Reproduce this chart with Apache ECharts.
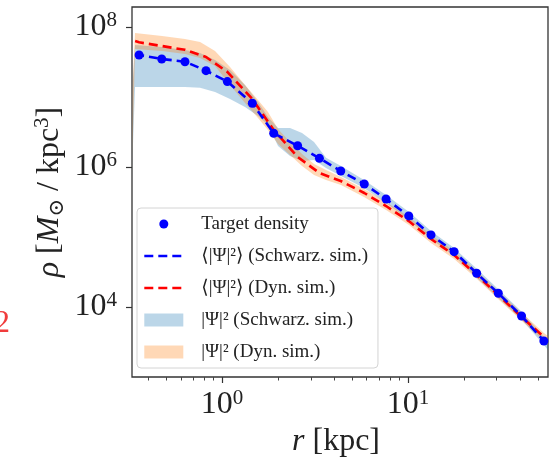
<!DOCTYPE html>
<html><head><meta charset="utf-8">
<script src="https://cdn.jsdelivr.net/npm/echarts@6/dist/echarts.min.js"></script>
<style>html,body{margin:0;padding:0;background:#fff}#c{width:552px;height:458px}</style>
</head><body><div id="c"></div>
<script>
// Target density points (r in kpc, rho in Msun/kpc^3)
const targetR   = [0.358, 0.474, 0.632, 0.820, 1.068, 1.455, 1.896, 2.55, 3.34, 4.35, 5.82, 7.62, 10.09, 13.3, 17.7, 23.4, 30.6, 40.8, 53.8];
const targetRho = [3.98e7, 3.49e7, 3.19e7, 2.38e7, 1.66e7, 8.13e6, 3.03e6, 2.01e6, 1.33e6, 8.77e5, 5.71e5, 3.49e5, 2.0e5, 1.07e5, 6.17e4, 3.03e4, 1.57e4, 7.44e3, 3.27e3];

// Mean |Psi|^2 curves
const meanR        = [0.341, 0.358, 0.474, 0.632, 0.820, 1.068, 1.455, 1.896, 2.55, 3.34, 4.35, 5.82, 7.62, 10.09, 13.3, 17.7, 23.4, 30.6, 40.8, 53.8];
const schwarzMean  = [4.05e7, 3.98e7, 3.49e7, 3.19e7, 2.38e7, 1.66e7, 8.13e6, 3.03e6, 2.01e6, 1.33e6, 8.77e5, 5.71e5, 3.49e5, 2.0e5, 1.07e5, 6.17e4, 3.03e4, 1.57e4, 7.44e3, 3.27e3];
const dynMean      = [6.3e7, 6.04e7, 5.35e7, 4.72e7, 3.73e7, 2.28e7, 9.36e6, 3.38e6, 1.39e6, 8.21e5, 6.31e5, 4.25e5, 2.77e5, 1.69e5, 9.36e4, 5.53e4, 2.86e4, 1.48e4, 7.2e3, 3.73e3];

// |Psi|^2 spread bands
const bandR       = [0.329, 0.3405, 0.476, 0.632, 0.762, 0.917, 1.104, 1.329, 1.561, 1.767, 2.0, 2.321, 2.692, 3.124, 3.624, 4.363, 5.8, 7.62, 10.13, 13.3, 17.7, 23.5, 30.5, 41.0, 53.8, 56.6];
const schwarzLow  = [1.07e6, 1.39e7, 1.39e7, 1.39e7, 1.35e7, 1.18e7, 9.36e6, 7.2e6, 5.36e6, 3.98e6, 2.0e6, 1.44e6, 1.22e6, 1.26e6, 9.68e5, 7.43e5, 5.01e5, 3.06e5, 1.75e5, 9.36e4, 5.36e4, 2.59e4, 1.35e4, 6.52e3, 2.86e3, 2.43e3];
const schwarzHigh = [1.14e7, 5.53e7, 5.18e7, 4.69e7, 4.25e7, 3.38e7, 2.43e7, 1.48e7, 8.48e6, 5.18e6, 3.61e6, 3.61e6, 3.06e6, 2.28e6, 1.35e6, 1.03e6, 6.52e5, 3.98e5, 2.28e5, 1.22e5, 6.97e4, 3.49e4, 1.81e4, 8.48e3, 3.73e3, 3.27e3];
const dynLow      = [1.07e6, 4.85e7, 4.54e7, 4.11e7, 3.61e7, 2.77e7, 1.48e7, 8.2e6, 5.01e6, 3.38e6, 2.13e6, 1.48e6, 1.03e6, 7.69e5, 6.52e5, 5.53e5, 3.73e5, 2.43e5, 1.48e5, 8.2e4, 4.85e4, 2.51e4, 1.30e4, 6.31e3, 3.27e3, 2.96e3];
const dynHigh     = [1.14e7, 8.2e7, 7.43e7, 6.74e7, 6.11e7, 4.54e7, 2.68e7, 1.48e7, 9.06e6, 6.11e6, 3.49e6, 2.28e6, 1.53e6, 1.10e6, 9.06e5, 7.2e5, 4.85e5, 3.16e5, 1.93e5, 1.07e5, 6.31e4, 3.27e4, 1.69e4, 8.2e3, 4.25e3, 3.85e3];

// Axis ticks
const xMajorTicks = [1, 10];
const xMinorTicks = [0.4, 0.5, 0.6, 0.7, 0.8, 0.9, 2, 3, 4, 5, 6, 7, 8, 9, 20, 30, 40, 50];
const yMajorTicks = [1e4, 1e6, 1e8];

const names = {
  target: 'Target density',
  schMean: '⟨|Ψ|²⟩ (Schwarz. sim.)',
  dynMean: '⟨|Ψ|²⟩ (Dyn. sim.)',
  schBand: '|Ψ|² (Schwarz. sim.)',
  dynBand: '|Ψ|² (Dyn. sim.)'
};

const SERIF = '"Liberation Serif", "DejaVu Serif", serif';
const INK = '#222';
const BLUE = '#0000ff', RED = '#ff0000';
const BLUE_BAND = 'rgba(31,119,180,0.3)', ORANGE_BAND = 'rgba(255,127,14,0.3)';

const zip = (xs, ys) => xs.map((x, i) => [x, ys[i]]);
const zip3 = (xs, lo, hi) => xs.map((x, i) => [x, lo[i], hi[i]]);

// Band polygon: drawn once from all data items via the axes' own scales
function bandRender(color) {
  return function (params, api) {
    if (params.dataIndexInside !== 0) return null;
    const n = params.dataInsideLength;
    const upper = [], lower = [];
    for (let i = 0; i < n; i++) {
      const r = api.value(0, i);
      upper.push(api.coord([r, api.value(2, i)]));
      lower.push(api.coord([r, api.value(1, i)]));
    }
    return {type: 'polygon', shape: {points: upper.concat(lower.reverse())}, style: {fill: color}, silent: true};
  };
}

const powRich = {
  b: {fontFamily: SERIF, fontSize: 32, color: INK, lineHeight: 34},
  s: {fontFamily: SERIF, fontSize: 21, color: INK, lineHeight: 24, verticalAlign: 'top'}
};
const powFmt = v => '{b|10}{s|' + Math.round(Math.log10(v)) + '}';

const DOT_ICON = 'path://M0,0M13,13M11,6.5A4.5,4.5,0,1,1,2,6.5A4.5,4.5,0,1,1,11,6.5Z';

const chart = echarts.init(document.getElementById('c'), null, {renderer: 'canvas'});
chart.setOption({
  animation: false,
  backgroundColor: '#fff',
  grid: {left: 132, right: 4, top: 7, bottom: 81, show: true, borderColor: '#333', borderWidth: 1.3, backgroundColor: 'transparent'},
  xAxis: [{
    type: 'log', min: 0.328, max: 56.6, position: 'bottom',
    axisLine: {show: false},
    splitLine: {show: false},
    axisTick: {show: true, customValues: xMajorTicks, length: 6, lineStyle: {color: '#333', width: 1.2}},
    axisLabel: {customValues: xMajorTicks, formatter: powFmt, rich: powRich, margin: 11}
  }, {
    type: 'log', min: 0.328, max: 56.6, position: 'bottom',
    axisLine: {show: false},
    splitLine: {show: false},
    axisTick: {show: true, customValues: xMinorTicks, length: 3.5, lineStyle: {color: '#444', width: 1}},
    axisLabel: {show: false}
  }],
  yAxis: {
    type: 'log', min: 1e3, max: 1.93e8,
    axisLine: {show: false},
    splitLine: {show: false},
    axisTick: {show: true, customValues: yMajorTicks, length: 6, lineStyle: {color: '#333', width: 1.2}},
    axisLabel: {customValues: yMajorTicks, formatter: powFmt, rich: powRich, margin: 15}
  },
  legend: {
    orient: 'vertical', left: 137, top: 208,
    itemWidth: 39, itemHeight: 13, itemGap: 12,
    padding: [6, 10, 6, 6],
    borderColor: '#d4d4d4', borderWidth: 1, borderRadius: 4,
    backgroundColor: 'rgba(255,255,255,0.8)',
    selectedMode: false,
    textStyle: {fontFamily: SERIF, fontSize: 19, color: INK, lineHeight: 20, padding: [0, 0, 0, 13]},
    data: [
      {name: names.target, icon: DOT_ICON, itemStyle: {color: BLUE}},
      {name: names.schMean, itemStyle: {opacity: 0}, lineStyle: {color: BLUE, width: 2.6, type: [9, 5]}},
      {name: names.dynMean, itemStyle: {opacity: 0}, lineStyle: {color: RED, width: 2.6, type: [9, 5]}},
      {name: names.schBand, icon: 'rect', itemStyle: {color: BLUE_BAND}},
      {name: names.dynBand, icon: 'rect', itemStyle: {color: ORANGE_BAND}}
    ]
  },
  series: [
    {name: names.schBand, type: 'custom', data: zip3(bandR, schwarzLow, schwarzHigh),
     encode: {x: 0, y: [1, 2]}, renderItem: bandRender(BLUE_BAND), itemStyle: {color: BLUE_BAND}, clip: true, z: 1, silent: true},
    {name: names.dynBand, type: 'custom', data: zip3(bandR, dynLow, dynHigh),
     encode: {x: 0, y: [1, 2]}, renderItem: bandRender(ORANGE_BAND), itemStyle: {color: ORANGE_BAND}, clip: true, z: 1, silent: true},
    {name: names.dynMean, type: 'line', data: zip(meanR, dynMean), symbol: 'none', showSymbol: false, z: 3,
     itemStyle: {color: RED}, lineStyle: {color: RED, width: 2.6, type: [9, 5]}},
    {name: names.schMean, type: 'line', data: zip(meanR, schwarzMean), symbol: 'none', showSymbol: false, z: 4,
     itemStyle: {color: BLUE}, lineStyle: {color: BLUE, width: 2.6, type: [9, 5]}},
    {name: names.target, type: 'scatter', data: zip(targetR, targetRho), symbol: 'circle', symbolSize: 9, z: 5,
     itemStyle: {color: BLUE, opacity: 1}}
  ],
  graphic: [
    {type: 'text', x: 50, y: 192, rotation: Math.PI / 2, silent: true,
     style: {text: '{i|ρ} [{i|M}{sub|⊙} / kpc{sup|3}]', align: 'center', verticalAlign: 'middle',
       fontFamily: SERIF, fontSize: 32, fill: INK, lineHeight: 36,
       rich: {
         i: {fontFamily: SERIF, fontSize: 32, fontStyle: 'italic', lineHeight: 36},
         sub: {fontFamily: SERIF, fontSize: 21, lineHeight: 26, verticalAlign: 'bottom'},
         sup: {fontFamily: SERIF, fontSize: 21, lineHeight: 24, verticalAlign: 'top'}
       }}},
    {type: 'text', x: 336, y: 442, silent: true,
     style: {text: '{i|r} [kpc]', align: 'center', verticalAlign: 'middle',
       fontFamily: SERIF, fontSize: 32, fill: INK, lineHeight: 36,
       rich: {i: {fontFamily: SERIF, fontSize: 32, fontStyle: 'italic', lineHeight: 36}}}},
    {type: 'text', x: -6, y: 324, silent: true,
     style: {text: '2', align: 'left', verticalAlign: 'middle', fontFamily: SERIF, fontSize: 32, fill: '#f03c3c'}}
  ]
});
</script></body></html>
